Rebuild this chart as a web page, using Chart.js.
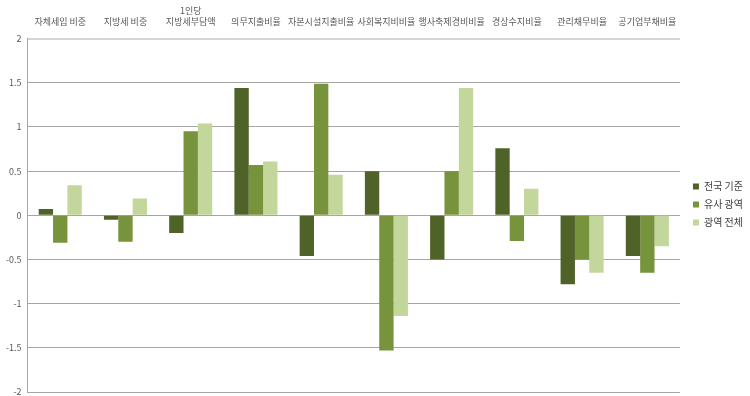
<!DOCTYPE html>
<html>
<head>
<meta charset="utf-8">
<script src="https://cdn.jsdelivr.net/npm/chart.js@4"></script>
<style>
  html,body{margin:0;padding:0;background:#fff;}
  #wrap{width:750px;height:396px;}
</style>
</head>
<body>
<div id="wrap"><canvas id="chart" width="750" height="396"></canvas></div>
<script>
const categories = ['자체세입 비중','지방세 비중',['1인당','지방세부담액'],'의무지출비율','자본시설지출비율','사회복지비비율','행사축제경비비율','경상수지비율','관리채무비율','공기업부채비율'];
const nationwide = [0.07,-0.05,-0.2,1.44,-0.46,0.5,-0.5,0.76,-0.78,-0.46];
const similar = [-0.31,-0.3,0.95,0.57,1.49,-1.53,0.5,-0.29,-0.5,-0.65];
const metroAll = [0.34,0.19,1.04,0.61,0.46,-1.14,1.44,0.3,-0.65,-0.35];
const seriesNames = ['전국 기준','유사 광역','광역 전체'];
const colors = ['#4f6228','#77933c','#c3d69b'];

const fontFam = '"Malgun Gothic","Noto Sans CJK KR",sans-serif';

// 범례 위치 살짝 조정
const legendShift = {
  id: 'legendShift',
  afterLayout(chart) {
    const lg = chart.legend;
    lg.top += 16;
    lg.left += 5;
  }
};

new Chart(document.getElementById('chart'), {
  type: 'bar',
  data: {
    labels: categories,
    datasets: [nationwide, similar, metroAll].map((d, i) => ({
      label: seriesNames[i],
      data: d,
      backgroundColor: colors[i],
      borderWidth: 0,
      categoryPercentage: 0.66,
      barPercentage: 1
    }))
  },
  options: {
    responsive: false,
    animation: false,
    layout: { padding: { top: 1, right: 2, left: 0, bottom: 4 } },
    scales: {
      x: {
        position: 'top',
        grid: { display: false },
        border: { display: false },
        ticks: { color: '#595959', font: { size: 9, family: fontFam }, maxRotation: 0, autoSkip: false, padding: 4 }
      },
      y: {
        min: -2, max: 2,
        afterFit: s => { s.paddingBottom = 0; },
        ticks: {
          stepSize: 0.5, color: '#595959', font: { size: 9, family: fontFam }, padding: 6,
          callback: v => String(v)
        },
        grid: {
          color: c => c.tick && c.tick.value === 2 ? '#d4d4d4' : '#a6a6a6',
          lineWidth: c => c.tick && c.tick.value === 2 ? 2 : 1,
          drawTicks: false
        },
        border: { display: true, color: '#a6a6a6' }
      }
    },
    plugins: {
      legend: {
        position: 'right',
        labels: { boxWidth: 6, boxHeight: 6, color: '#404040', font: { size: 10, family: fontFam }, padding: 8 }
      },
      tooltip: { enabled: false }
    }
  },
  plugins: [legendShift]
});
</script>
</body>
</html>
